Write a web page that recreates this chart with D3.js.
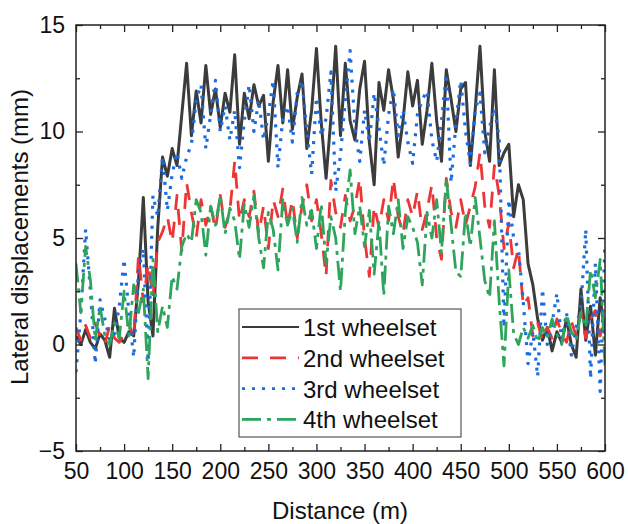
<!DOCTYPE html>
<html>
<head>
<meta charset="utf-8">
<script src="https://cdn.jsdelivr.net/npm/d3@7"></script>
<style>
  html, body { margin: 0; padding: 0; background: #fff; }
  svg { display: block; font-family: 'Liberation Sans', Arial, sans-serif; }
</style>
</head>
<body>
<div class="chart"></div>
<script>
'use strict';

// distance grid: 50 m to 600 m, one reading every 5 m
var startDistance = 50;
var stepDistance = 5;

var wheelset1 = [
  0.4, 0.0, 0.7, 0.1, -0.2, 0.5, 0.2, -0.6, 1.7, 0.3,
  0.1, 0.6, 0.4, 3.0, 6.9, 2.0, 0.4, 5.5, 8.8, 7.9,
  9.2, 8.4, 10.8, 13.2, 9.8, 11.9, 10.4, 13.1, 10.8, 12.0,
  10.2, 11.8, 10.9, 13.6, 9.4, 11.8, 10.6, 12.2, 11.2, 11.7,
  8.6, 11.4, 13.1, 10.4, 12.9, 10.1, 11.6, 12.7, 9.2, 11.0,
  13.9, 10.4, 7.8, 10.6, 14.0, 9.8, 13.2, 10.5, 9.6, 12.0,
  13.3, 9.5, 7.5, 12.3, 11.0, 12.9, 11.5, 8.8, 10.5, 12.8,
  11.2, 12.4, 9.4, 11.0, 13.2, 10.5, 8.6, 12.9, 11.5, 10.0,
  12.0, 12.3, 8.4, 11.0, 14.0, 10.0, 8.6, 12.9, 8.4, 9.0,
  9.4, 6.0, 7.5, 6.8, 3.8, 2.8, 1.2, 0.2, 0.8, -0.3,
  0.6, 0.1, 1.2, 0.0, -0.6, 2.6, 0.2, 1.8, -0.5, 2.2,
  0.5
];

var wheelset2 = [
  0.8, 0.2, 0.9, 0.3, 1.0, 0.4, 0.0, 0.9, 0.3, 0.1,
  0.5, 1.0, 0.3, 4.2, 2.0, 3.8, 2.2, 4.8, 5.3, 6.0,
  4.8, 7.0, 4.4, 7.6, 6.2, 5.0, 6.8, 5.6, 6.5, 5.4,
  7.0, 5.5, 6.3, 8.6, 5.8, 6.8, 6.0, 7.2, 5.2, 6.5,
  4.5, 6.8, 6.0, 7.3, 5.6, 6.8, 5.0, 6.5, 7.5, 5.8,
  6.8, 5.2, 3.2, 7.7, 6.2, 5.5, 7.0, 5.8, 6.5, 7.8,
  5.0, 3.2, 6.5, 5.5, 6.8, 5.8, 7.8, 6.0, 5.2, 6.8,
  6.0, 7.2, 5.4, 6.3, 7.5, 5.0, 4.0, 7.8, 6.2, 5.5,
  6.8, 5.6, 6.5, 7.4, 9.0, 6.5, 5.5, 8.4, 7.0, 4.5,
  5.7, 3.6, 4.5, 1.8, 2.2, 0.4, 1.0, 0.2, 0.8, 0.3,
  1.2, 0.5, 0.1, 1.1, 0.4, 1.5, 0.3, 1.2, 1.6, 0.4,
  1.3
];

var wheelset3 = [
  -1.3, 1.5, 5.4, 2.5, -0.9, 2.1, 1.2, 0.2, 0.5, 1.8,
  4.0, 1.5, -0.6, 3.5, 4.5, -0.8, 7.0, 6.0, 8.8, 6.3,
  8.0, 9.0, 7.8, 8.8, 9.4, 11.5, 12.2, 9.2, 10.8, 12.4,
  10.0, 11.2, 9.6, 11.0, 8.3, 10.5, 12.2, 10.0, 11.5, 9.6,
  10.8, 12.4, 8.3, 10.6, 11.2, 9.5, 11.8, 12.4, 10.0, 8.0,
  11.6, 9.8, 10.6, 12.8, 7.2, 8.9, 11.5, 13.8, 10.2, 8.6,
  11.0, 9.5, 11.8, 10.2, 8.4, 10.8, 12.0, 9.8, 11.0, 9.5,
  8.5, 10.8, 11.5, 11.9, 9.6, 8.6, 10.5, 12.7, 7.6, 10.4,
  12.4, 10.0, 8.5, 11.0, 11.8, 9.0, 10.2, 11.1, 9.7, 0.8,
  6.8, 5.0, 4.5, 2.0, -0.9, 0.6, -1.5, 2.6, 0.0, 1.0,
  2.4, 0.2, 1.5, -0.5, 0.8, 1.8, 5.4, -1.6, 3.8, -2.2,
  4.8
];

var wheelset4 = [
  3.8, 1.5, 4.6, 3.0, 0.2, 1.8, 0.4, 0.0, 1.0, 0.3,
  2.5, 0.4, 2.8, 1.5, 2.6, -1.6, 4.0, 0.6, 1.8, 0.8,
  3.2, 2.6, 4.6, 5.2, 4.8, 6.8, 6.2, 4.2, 6.5, 5.6,
  7.0, 5.2, 6.4, 5.8, 4.0, 6.6, 5.5, 7.0, 5.0, 3.6,
  6.2, 5.4, 3.5, 6.8, 5.6, 6.4, 4.8, 6.9, 5.6, 6.3,
  4.5, 6.6, 3.8, 6.0, 5.0, 2.5, 6.2, 8.2, 5.2, 6.5,
  4.6, 6.3, 3.3, 5.8, 2.3, 6.5, 5.2, 6.8, 4.5, 6.0,
  5.5, 4.8, 2.8, 6.2, 5.0, 6.8, 4.3, 7.8, 5.6, 3.4,
  3.2, 6.2, 4.6, 6.9, 5.0, 3.0, 2.2, 5.8, 2.0, -1.0,
  3.5, 0.5, 0.0, 0.8, 0.3, 0.9, 0.1, 0.8, 0.3, 1.2,
  0.5, 0.0, 1.4, 0.6, 0.2, 1.5, 0.8, 3.5, 2.2, 4.0,
  -1.0
];

var seriesNames = ['1st wheelset', '2nd wheelset', '3rd wheelset', '4th wheelset'];
var seriesValues = [wheelset1, wheelset2, wheelset3, wheelset4];

var xTicks = [50, 100, 150, 200, 250, 300, 350, 400, 450, 500, 550, 600];
var yTicks = [-5, 0, 5, 10, 15];

var styles = [
  {color: '#3c3c3c', dash: null,           width: 3},
  {color: '#ee3535', dash: '16,12',        width: 2.8},
  {color: '#1a6ae0', dash: '3,7',          width: 3.2},
  {color: '#2ea55c', dash: '19,6,4,6',     width: 2.8}
];

var width = 628, height = 524;
var margin = {top: 25, right: 23, bottom: 73, left: 76};
var innerW = width - margin.left - margin.right;   // 529
var innerH = height - margin.top - margin.bottom;  // 426

var svg = d3.select('.chart').append('svg')
    .attr('width', width)
    .attr('height', height);

var x = d3.scaleLinear().domain([50, 600]).range([0, innerW]);
var y = d3.scaleLinear().domain([-5, 15]).range([innerH, 0]);

var g = svg.append('g')
    .attr('transform', 'translate(' + margin.left + ',' + margin.top + ')');

g.append('clipPath').attr('id', 'plotclip')
  .append('rect')
    .attr('width', innerW)
    .attr('height', innerH);

var line = d3.line()
    .x(function(d, i) { return x(startDistance + i * stepDistance); })
    .y(function(d) { return y(d); });

var plot = g.append('g').attr('clip-path', 'url(#plotclip)');

seriesValues.forEach(function(vals, k) {
  plot.append('path')
      .datum(vals)
      .attr('d', line)
      .attr('fill', 'none')
      .attr('stroke', styles[k].color)
      .attr('stroke-width', styles[k].width)
      .attr('stroke-dasharray', styles[k].dash)
      .attr('stroke-linejoin', 'round');
});

// axes, ticks inside on all four sides
var xMinor = d3.range(75, 600, 50);
var yMinor = [-2.5, 2.5, 7.5, 12.5];

var tickStyle = function(sel) {
  sel.select('.domain').remove();
  sel.selectAll('line').attr('stroke', '#222').attr('stroke-width', 1.3);
  sel.selectAll('text')
      .attr('fill', '#111')
      .style('font-size', '23px')
      .style('font-family', "'Liberation Sans', Arial, sans-serif");
};

g.append('g')
    .attr('transform', 'translate(0,' + innerH + ')')
    .call(d3.axisBottom(x).tickValues(xTicks).tickFormat(d3.format('d'))
      .tickSizeInner(-7).tickSizeOuter(0).tickPadding(12))
    .call(tickStyle);

g.append('g')
    .attr('transform', 'translate(0,' + innerH + ')')
    .call(d3.axisBottom(x).tickValues(xMinor).tickFormat('').tickSizeInner(-4).tickSizeOuter(0))
    .call(tickStyle);

g.append('g')
    .call(d3.axisTop(x).tickValues(xTicks).tickFormat('').tickSizeInner(-7).tickSizeOuter(0))
    .call(tickStyle);
g.append('g')
    .call(d3.axisTop(x).tickValues(xMinor).tickFormat('').tickSizeInner(-4).tickSizeOuter(0))
    .call(tickStyle);

g.append('g')
    .call(d3.axisLeft(y).tickValues(yTicks).tickFormat(d3.format('d'))
      .tickSizeInner(-7).tickSizeOuter(0).tickPadding(11))
    .call(tickStyle);
g.append('g')
    .call(d3.axisLeft(y).tickValues(yMinor).tickFormat('').tickSizeInner(-4).tickSizeOuter(0))
    .call(tickStyle);

g.append('g')
    .attr('transform', 'translate(' + innerW + ',0)')
    .call(d3.axisRight(y).tickValues(yTicks).tickFormat('').tickSizeInner(-7).tickSizeOuter(0))
    .call(tickStyle);
g.append('g')
    .attr('transform', 'translate(' + innerW + ',0)')
    .call(d3.axisRight(y).tickValues(yMinor).tickFormat('').tickSizeInner(-4).tickSizeOuter(0))
    .call(tickStyle);

g.append('rect')
    .attr('width', innerW)
    .attr('height', innerH)
    .attr('fill', 'none')
    .attr('stroke', '#222')
    .attr('stroke-width', 1.5);

// axis titles
svg.append('text')
    .attr('x', 340)
    .attr('y', 519)
    .attr('text-anchor', 'middle')
    .style('font-size', '24px')
    .attr('fill', '#111')
    .text('Distance (m)');

svg.append('text')
    .attr('transform', 'translate(28,' + 237 + ') rotate(-90)')
    .attr('text-anchor', 'middle')
    .style('font-size', '24px')
    .attr('fill', '#111')
    .text('Lateral displacements (mm)');

// legend
var legend = svg.append('g').attr('transform', 'translate(239,309)');

legend.append('rect')
    .attr('width', 222)
    .attr('height', 128)
    .attr('fill', '#fff')
    .attr('stroke', '#555')
    .attr('stroke-width', 1.2);

var rows = legend.selectAll('.row')
    .data(seriesNames)
  .enter().append('g')
    .attr('class', 'row')
    .attr('transform', function(d, i) { return 'translate(0,' + (18 + i * 30.8) + ')'; });

rows.append('line')
    .attr('x1', 3)
    .attr('x2', 60)
    .attr('stroke', function(d, i) { return styles[i].color; })
    .attr('stroke-width', function(d, i) { return i === 0 ? 2.2 : 2.8; })
    .attr('stroke-dasharray', function(d, i) { return styles[i].dash; });

rows.append('text')
    .attr('x', 64)
    .attr('y', 9)
    .style('font-size', '24px')
    .attr('fill', '#111')
    .text(function(d) { return d; });
</script>
</body>
</html>
